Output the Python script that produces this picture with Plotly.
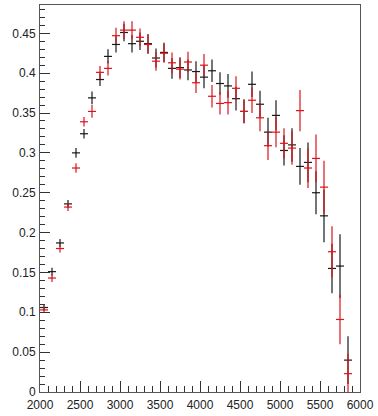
import plotly.graph_objects as go

x_bins = [2050, 2150, 2250, 2350, 2450, 2550, 2650, 2750, 2850, 2950,
          3050, 3150, 3250, 3350, 3450, 3550, 3650, 3750, 3850, 3950,
          4050, 4150, 4250, 4350, 4450, 4550, 4650, 4750, 4850, 4950,
          5050, 5150, 5250, 5350, 5450, 5550, 5650, 5750, 5850]
half_width = [50] * len(x_bins)

black_vals = [0.106, 0.151, 0.187, 0.236, 0.300, 0.324, 0.369, 0.392, 0.421, 0.436,
              0.451, 0.437, 0.440, 0.437, 0.419, 0.426, 0.406, 0.407, 0.404, 0.402,
              0.395, 0.403, 0.387, 0.384, 0.368, 0.352, 0.386, 0.361, 0.326, 0.347,
              0.303, 0.310, 0.283, 0.288, 0.250, 0.221, 0.155, 0.158, 0.040]
black_errs = [0.004, 0.005, 0.005, 0.005, 0.006, 0.006, 0.008, 0.008, 0.009, 0.010,
              0.011, 0.011, 0.011, 0.012, 0.012, 0.012, 0.013, 0.013, 0.013, 0.013,
              0.014, 0.014, 0.014, 0.015, 0.015, 0.015, 0.016, 0.017, 0.018, 0.019,
              0.019, 0.021, 0.023, 0.025, 0.027, 0.033, 0.031, 0.040, 0.030]

red_vals = [0.103, 0.143, 0.180, 0.232, 0.281, 0.339, 0.352, 0.401, 0.406, 0.447,
            0.454, 0.454, 0.445, 0.436, 0.415, 0.425, 0.413, 0.405, 0.414, 0.388,
            0.410, 0.371, 0.362, 0.363, 0.381, 0.352, 0.366, 0.344, 0.309, 0.326,
            0.312, 0.306, 0.353, 0.281, 0.293, 0.257, 0.176, 0.091, 0.023]
red_errs = [0.004, 0.005, 0.005, 0.005, 0.006, 0.006, 0.008, 0.008, 0.009, 0.010,
            0.011, 0.011, 0.011, 0.012, 0.012, 0.012, 0.013, 0.013, 0.013, 0.013,
            0.014, 0.014, 0.014, 0.015, 0.015, 0.015, 0.016, 0.017, 0.018, 0.019,
            0.019, 0.021, 0.026, 0.025, 0.030, 0.033, 0.032, 0.031, 0.025]

BLACK = "#1a1a1a"
RED = "#d9141c"

fig = go.Figure()
for vals, errs, col in [(black_vals, black_errs, BLACK), (red_vals, red_errs, RED)]:
    fig.add_trace(go.Scatter(
        x=x_bins, y=vals, mode="markers",
        marker=dict(size=1, color=col),
        error_x=dict(type="data", array=half_width, visible=True, color=col, thickness=1.2, width=0),
        error_y=dict(type="data", array=errs, visible=True, color=col, thickness=1.2, width=0),
        showlegend=False, hoverinfo="skip",
    ))

axis_font = dict(family="Liberation Sans, Arial, sans-serif", size=12, color="#222")
fig.update_layout(
    width=378, height=416,
    margin=dict(l=40, r=18, t=4, b=21),
    paper_bgcolor="white", plot_bgcolor="white",
    xaxis=dict(range=[2000, 6000], dtick=500, tick0=2000, ticks="inside", ticklen=11,
               tickcolor="#333", tickwidth=1, showgrid=False, zeroline=False,
               showline=True, linecolor="#555", linewidth=1, mirror=True,
               tickfont=axis_font, ticklabelstandoff=2,
               minor=dict(dtick=100, ticks="inside", ticklen=6, tickcolor="#333", showgrid=False)),
    yaxis=dict(range=[0, 0.4855], dtick=0.05, tick0=0, ticks="inside", ticklen=10,
               tickcolor="#333", tickwidth=1, showgrid=False, zeroline=False,
               showline=True, linecolor="#555", linewidth=1, mirror=True,
               tickfont=axis_font, ticklabelstandoff=1,
               minor=dict(dtick=0.01, ticks="inside", ticklen=5, tickcolor="#333", showgrid=False)),
)
fig.write_html("out.html", config={"displayModeBar": False, "staticPlot": True},
               post_script="document.body.style.margin='0';document.body.style.overflow='hidden';")
